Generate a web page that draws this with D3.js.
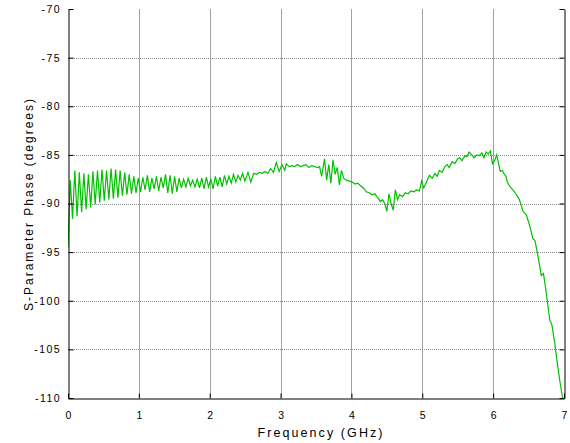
<!DOCTYPE html>
<html>
<head>
<meta charset="utf-8">
<script src="https://cdn.jsdelivr.net/npm/d3@7"></script>
<style>
  html, body { margin: 0; padding: 0; background: #fff; }
  svg { display: block; }
  text { font-family: "Liberation Sans", Arial, sans-serif; fill: #000; }
</style>
</head>
<body>
<svg id="chart" width="570" height="443"></svg>
<script>
// ---- data ----
const xTicks = [0, 1, 2, 3, 4, 5, 6, 7];
const yTicks = [-110, -105, -100, -95, -90, -85, -80, -75, -70];
const xLabel = "Frequency (GHz)";
const yLabel = "S-Parameter Phase (degrees)";

const freqGHz = [
  0, 0.032, 0.064, 0.096, 0.128, 0.16, 0.192, 0.224, 0.256, 0.288,
  0.32, 0.352, 0.384, 0.416, 0.448, 0.48, 0.512, 0.544, 0.576, 0.608,
  0.64, 0.672, 0.704, 0.736, 0.768, 0.8, 0.832, 0.864, 0.896, 0.928,
  0.96, 0.992, 1.024, 1.056, 1.088, 1.12, 1.152, 1.184, 1.216, 1.248,
  1.28, 1.312, 1.344, 1.376, 1.408, 1.44, 1.472, 1.504, 1.536, 1.568,
  1.6, 1.632, 1.664, 1.696, 1.728, 1.76, 1.792, 1.824, 1.856, 1.888,
  1.92, 1.952, 1.984, 2.016, 2.048, 2.08, 2.112, 2.144, 2.176, 2.208,
  2.24, 2.272, 2.304, 2.336, 2.368, 2.4, 2.432, 2.464, 2.496,
  2.54, 2.58, 2.62, 2.66, 2.70, 2.74, 2.78, 2.82, 2.86, 2.90,
  2.94, 2.98, 3.02, 3.06, 3.08, 3.12, 3.16, 3.20, 3.24, 3.28,
  3.32, 3.36, 3.40, 3.44, 3.48, 3.52, 3.55, 3.58, 3.62, 3.65,
  3.68, 3.71, 3.74, 3.77, 3.80, 3.83, 3.86, 3.89, 3.93, 3.97,
  4.01, 4.05, 4.09, 4.13, 4.17, 4.21, 4.25, 4.29, 4.33, 4.37,
  4.41, 4.44, 4.47, 4.50, 4.53, 4.56, 4.59, 4.62, 4.65, 4.68,
  4.72, 4.76, 4.80, 4.84, 4.88, 4.92, 4.96, 4.99, 5.02, 5.06,
  5.10, 5.14, 5.18, 5.21, 5.24, 5.28, 5.32, 5.35, 5.38, 5.42,
  5.46, 5.50, 5.53, 5.56, 5.60, 5.63, 5.66, 5.70, 5.73, 5.77,
  5.80, 5.84, 5.87, 5.90, 5.93, 5.96, 5.99, 6.02, 6.05, 6.08,
  6.10, 6.13, 6.15, 6.18, 6.20, 6.24, 6.29, 6.33, 6.37, 6.40,
  6.42, 6.47, 6.52, 6.56, 6.59, 6.63, 6.68, 6.71, 6.75, 6.80,
  6.83, 6.87, 6.90, 6.94, 6.98
];

const phaseDeg = [
  -94.5, -87.6, -91.6, -86.6, -91.3, -86.8, -90.9, -86.9, -90.6, -87.0,
  -90.4, -86.7, -90.1, -86.6, -89.9, -86.5, -89.7, -86.6, -89.6, -86.4,
  -89.5, -86.5, -89.4, -86.6, -89.2, -86.8, -89.1, -87.0, -89.0, -87.2,
  -88.9, -87.4, -88.8, -87.3, -88.6, -87.1, -88.8, -87.4, -88.5, -87.2,
  -88.7, -87.3, -88.4, -87.0, -88.9, -87.1, -89.0, -87.2, -88.8, -87.4,
  -88.4, -87.5, -88.3, -87.4, -88.2, -87.6, -88.3, -87.5, -88.4, -87.4,
  -88.5, -87.3, -88.3, -87.5, -88.5, -87.2, -88.2, -87.3, -88.3, -87.1,
  -88.0, -87.2, -87.9, -87.0, -87.8, -87.1, -87.6, -86.9, -87.7,
  -86.8, -87.8, -86.9, -87.0, -86.8, -86.9, -86.7, -86.9, -86.4, -86.8,
  -85.8, -86.7, -86.0, -86.6, -85.9, -86.2, -86.1, -86.2, -86.0, -86.2,
  -86.1, -86.0, -86.3, -86.1, -86.2, -86.3, -86.2, -87.2, -85.4, -87.6,
  -86.0, -87.9, -85.5, -87.0, -86.3, -88.1, -86.6, -87.4, -87.6, -87.7,
  -87.8, -88.0, -87.9, -88.2, -88.4, -88.8, -88.9, -89.1, -89.0, -89.4,
  -89.8, -89.6, -90.0, -90.8, -89.0, -90.0, -90.7, -88.6, -89.6, -89.1,
  -89.3, -88.9, -89.0, -88.7, -88.8, -88.6, -88.7, -87.7, -88.4, -87.8,
  -87.1, -87.4, -86.9, -87.2, -86.6, -86.8, -86.2, -86.0, -86.3, -85.7,
  -85.9, -85.4, -85.3, -85.6, -85.1, -85.2, -84.7, -85.0, -85.3, -85.0,
  -85.1, -84.8, -85.3, -84.7, -84.9, -84.6, -85.9, -85.6, -85.0, -86.0,
  -86.7, -86.6, -86.9, -87.2, -87.8, -88.3, -88.7, -89.1, -89.6, -90.3,
  -90.8, -91.2, -92.4, -93.6, -93.8, -95.3, -97.4, -97.2, -99.2, -102.0,
  -102.5, -104.4, -106.1, -108.2, -110.0
];

// ---- layout ----
const pLeft = 68, pRight = 564, pTop = 9, pBottom = 398;
const svg = d3.select("#chart");

const x = d3.scaleLinear().domain([0, 7]).range([pLeft, pRight]);
const y = d3.scaleLinear().domain([-110, -70]).range([pBottom, pTop]);

// grid lines
const grid = svg.append("g");
grid.selectAll("line.hg")
  .data(yTicks.filter(v => v > -110 && v < -70))
  .join("line")
  .attr("x1", pLeft).attr("x2", pRight)
  .attr("y1", d => Math.round(y(d)) + 0.5).attr("y2", d => Math.round(y(d)) + 0.5)
  .attr("stroke", "#8c8c8c").attr("stroke-width", 1)
  .attr("stroke-dasharray", "1,1");
grid.selectAll("line.vg")
  .data(xTicks.filter(v => v > 0 && v < 7))
  .join("line")
  .attr("x1", d => Math.round(x(d)) + 0.5).attr("x2", d => Math.round(x(d)) + 0.5)
  .attr("y1", pTop).attr("y2", pBottom)
  .attr("stroke", "#a0a0a0").attr("stroke-width", 1);

// data line
svg.append("defs").append("clipPath").attr("id", "clip")
  .append("rect").attr("x", pLeft).attr("y", pTop)
  .attr("width", pRight - pLeft).attr("height", pBottom - pTop + 1);

const pts = freqGHz.map((f, i) => [f, phaseDeg[i]]);
const line = d3.line().x(d => x(d[0])).y(d => y(d[1]));
svg.append("path")
  .datum(pts)
  .attr("clip-path", "url(#clip)")
  .attr("d", line)
  .attr("fill", "none")
  .attr("stroke", "#00c000")
  .attr("stroke-width", 1.2)
  .attr("stroke-linejoin", "miter");

// axes (ticks inward)
const tickLen = 5;
const fmt = d => String(d);
const yAxisL = d3.axisLeft(y).tickValues(yTicks).tickSizeInner(-tickLen).tickSizeOuter(0).tickPadding(tickLen + 4).tickFormat(fmt);
const yAxisR = d3.axisRight(y).tickValues(yTicks).tickSizeInner(-tickLen).tickSizeOuter(0).tickFormat("");
const xAxisB = d3.axisBottom(x).tickValues(xTicks).tickSizeInner(-tickLen).tickSizeOuter(0).tickPadding(tickLen + 8).tickFormat(fmt);

function styleAxis(g) {
  g.select(".domain").attr("stroke", "#000").attr("stroke-width", 1);
  g.selectAll(".tick line").attr("stroke", "#000");
  g.selectAll(".tick text")
    .style("font-family", '"Liberation Sans", Arial, sans-serif')
    .style("font-size", "10.5px")
    .style("letter-spacing", "1.4px")
    .attr("fill", "#000");
}

svg.append("g").attr("transform", `translate(${pLeft + 0.5},0)`).call(yAxisL).call(styleAxis)
  .selectAll(".tick text").attr("dx", "1.4px");
svg.append("g").attr("transform", `translate(${pRight + 0.5},0)`).call(yAxisR).call(styleAxis);
svg.append("g").attr("transform", `translate(0,${pBottom + 0.5})`).call(xAxisB).call(styleAxis)
  .selectAll(".tick text").attr("dx", "0.7px");

// axis titles
svg.append("text")
  .attr("x", 320).attr("y", 437)
  .attr("text-anchor", "middle")
  .attr("textLength", 125).attr("lengthAdjust", "spacing")
  .style("font-size", "12.5px")
  .text(xLabel);

svg.append("text")
  .attr("transform", "translate(33,205) rotate(-90)")
  .attr("text-anchor", "middle")
  .attr("textLength", 212).attr("lengthAdjust", "spacing")
  .style("font-size", "12px")
  .text(yLabel);
</script>
</body>
</html>
